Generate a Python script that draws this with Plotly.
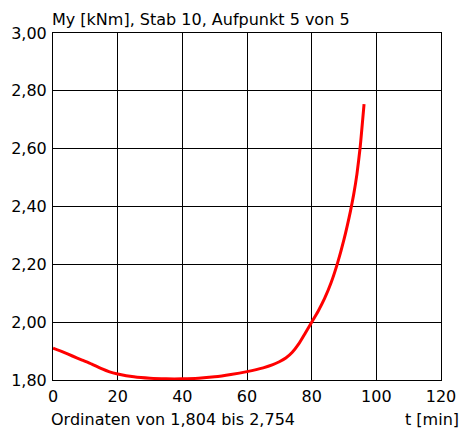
import plotly.graph_objects as go

t_min = [0, 3, 6, 9, 12, 15, 17.5, 20, 25, 30, 35, 40, 45, 50, 55, 60, 65, 68, 70, 72, 74, 76, 78, 80,
         82, 84, 86, 88, 90, 92, 93, 94, 95, 96.2]
my_knm = [1.910, 1.897, 1.883, 1.869, 1.855, 1.839, 1.828, 1.821, 1.811, 1.806, 1.804, 1.804, 1.806, 1.811,
          1.819, 1.829, 1.842, 1.853, 1.863, 1.876, 1.896, 1.925, 1.962, 2.000,
          2.038, 2.082, 2.136, 2.204, 2.286, 2.384, 2.442, 2.512, 2.605, 2.754]

x_ticks = [0, 20, 40, 60, 80, 100, 120]
y_ticks = [1.8, 2.0, 2.2, 2.4, 2.6, 2.8, 3.0]

title_text = "My [kNm], Stab 10, Aufpunkt 5 von 5"
footer_text = "Ordinaten von 1,804 bis 2,754"
x_unit = "t [min]"

FONT = "DejaVu Sans"
FS = 16

fig = go.Figure()
fig.add_trace(go.Scatter(x=t_min, y=my_knm, mode="lines",
                         line=dict(color="#ff0000", width=3, shape="spline", smoothing=0.5),
                         showlegend=False, hoverinfo="skip"))

fig.update_layout(
    width=462, height=428,
    margin=dict(l=53, r=21, t=33, b=48, pad=0),
    paper_bgcolor="white", plot_bgcolor="white",
    separators=",.",
    font=dict(family=FONT, size=FS, color="black"),
    showlegend=False,
)
fig.update_xaxes(range=[0, 120], tickvals=x_ticks, showgrid=True, gridcolor="black", gridwidth=1,
                 showline=True, linecolor="black", linewidth=1, mirror=True, zeroline=False,
                 automargin=False, ticks="", ticklen=0, ticklabelstandoff=2,
                 tickfont=dict(family=FONT, size=FS, color="black"))
fig.update_yaxes(range=[1.8, 3.0], tickvals=y_ticks, tickformat=".2f", showgrid=True, gridcolor="black",
                 gridwidth=1, showline=True, linecolor="black", linewidth=1, mirror=True, zeroline=False,
                 automargin=False, ticks="", ticklen=0, ticklabelstandoff=2,
                 tickfont=dict(family=FONT, size=FS, color="black"))

fig.add_annotation(text=title_text, xref="paper", yref="paper", x=0, y=1, xanchor="left", yanchor="bottom",
                   xshift=-3, yshift=2, showarrow=False, font=dict(family=FONT, size=FS, color="black"))
fig.add_annotation(text=footer_text, xref="paper", yref="paper", x=0, y=0, xanchor="left", yanchor="top",
                   xshift=-4, yshift=-28, showarrow=False, font=dict(family=FONT, size=FS, color="black"))
fig.add_annotation(text=x_unit, xref="paper", yref="paper", x=1, y=0, xanchor="right", yanchor="top",
                   xshift=20, yshift=-28, showarrow=False, font=dict(family=FONT, size=FS, color="black"))

fig.write_html("out.html")
